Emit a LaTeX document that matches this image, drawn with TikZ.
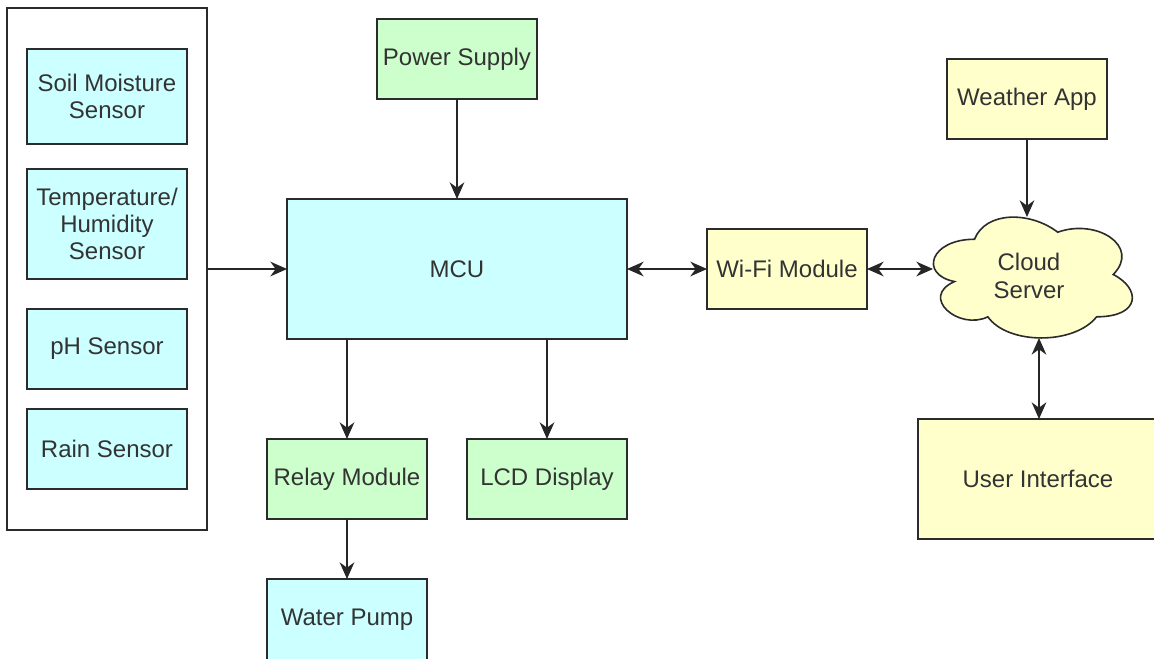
\documentclass[tikz,border=0pt]{standalone}
\usepackage{fontspec}
\setmainfont{Liberation Sans}
\usetikzlibrary{arrows.meta}
\definecolor{cyanfill}{HTML}{CCFFFF}
\definecolor{greenfill}{HTML}{CCFFCC}
\definecolor{yellowfill}{HTML}{FFFFCC}
\definecolor{edgecol}{HTML}{2B2B2B}
\definecolor{txtcol}{HTML}{333333}
\begin{document}
\begin{tikzpicture}[x=0.75pt,y=-0.75pt,
  basebox/.style={draw=edgecol, line width=1.2pt, inner sep=0pt, outer sep=0pt,
    align=center, text=txtcol, font=\fontsize{18}{20.5}\selectfont,
    minimum width=120pt, minimum height=60pt},
  cyanbox/.style={basebox, fill=cyanfill},
  greenbox/.style={basebox, fill=greenfill},
  yellowbox/.style={basebox, fill=yellowfill},
  groupbox/.style={draw=edgecol, line width=1.2pt, fill=white, inner sep=0pt, outer sep=0pt,
    minimum width=150pt, minimum height=391.5pt},
  tip/.tip={Stealth[length=12.5pt,width=11pt,inset=4pt]},
  conn/.style={draw=black!85, line width=1.1pt, -tip},
  bconn/.style={draw=black!85, line width=1.1pt, tip-tip}
]
\useasboundingbox (0,0) rectangle (1154,658);
\clip (0,0) rectangle (1154,658);
\fill[white] (0,0) rectangle (1154,658);

% sensor group
\node[groupbox] (group) at (107,269) {};
\node[cyanbox, minimum height=71.25pt] (soil) at (107,96.5) {Soil Moisture\\Sensor};
\node[cyanbox, minimum height=82.5pt] (temp) at (107,224) {Temperature/\\Humidity\\Sensor};
\node[cyanbox] (ph) at (107,349) {pH Sensor};
\node[cyanbox] (rain) at (107,449) {Rain Sensor};

% centre column
\node[greenbox] (power) at (457,59) {Power Supply};
\node[cyanbox, minimum width=255pt, minimum height=105pt] (mcu) at (457,269) {MCU};
\node[greenbox] (relay) at (347,479) {Relay Module};
\node[greenbox] (lcd) at (547,479) {LCD Display};
\node[cyanbox, minimum height=61.5pt] (pump) at (347,620) {Water Pump};

% right side
\node[yellowbox] (wifi) at (787,269) {Wi-Fi Module};
\node[yellowbox] (weather) at (1027,99) {Weather App};
\node[yellowbox, minimum width=180pt, minimum height=90pt] (ui) at (1038,479) {User Interface};

% cloud
\filldraw[fill=yellowfill, draw=edgecol, line width=1.2pt]
  (974.5,239.25)
  .. controls (930.1,239.25) and (919,274.5) .. (954.52,281.55)
  .. controls (919,297.06) and (958.96,330.9) .. (987.82,316.8)
  .. controls (1007.8,345) and (1074.4,345) .. (1096.6,316.8)
  .. controls (1141,316.8) and (1141,288.6) .. (1113.25,274.5)
  .. controls (1141,246.3) and (1096.6,218.1) .. (1057.75,232.2)
  .. controls (1030,211.05) and (985.6,211.05) .. (974.5,239.25) -- cycle;
\node[align=center, text=txtcol, font=\fontsize{18}{20.5}\selectfont, inner sep=0pt] (cloud) at (1029,276) {Cloud\\Server};
\coordinate (cloudL) at (933,269);
\coordinate (cloudT) at (1027,217);
\coordinate (cloudB) at (1039,338);

% connectors
\draw[conn] (group.east |- mcu.west) -- (mcu.west);
\draw[conn] (power.south) -- (mcu.north);
\draw[conn] (relay.north |- mcu.south) -- (relay.north);
\draw[conn] (lcd.north |- mcu.south) -- (lcd.north);
\draw[conn] (relay.south) -- (pump.north);
\draw[bconn] (mcu.east) -- (wifi.west);
\draw[bconn] (wifi.east) -- (cloudL);
\draw[conn] (weather.south) -- (cloudT);
\draw[bconn] (cloudB) -- (cloudB |- ui.north);
\end{tikzpicture}
\end{document}
